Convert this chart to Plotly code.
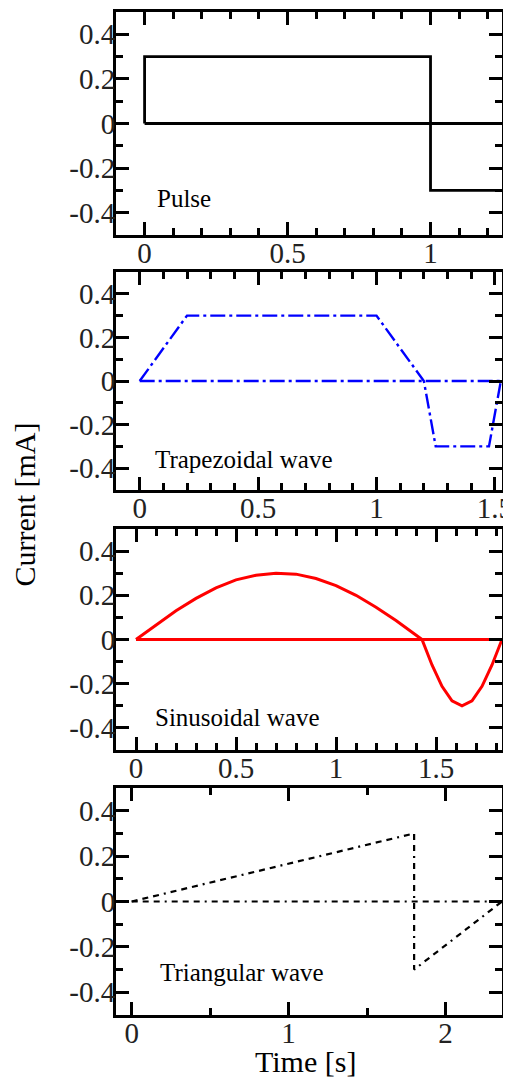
import plotly.graph_objects as go
from plotly.subplots import make_subplots

# ---- data ----
pulse_t = [0, 0, 1, 1, 1.25]
pulse_i = [0, 0.3, 0.3, -0.3, -0.3]

trap_t = [0, 0.2, 1.0, 1.2, 1.25, 1.475, 1.525]
trap_i = [0, 0.3, 0.3, 0.0, -0.3, -0.3, 0.0]

sine_t = [0, 0.1, 0.2, 0.3, 0.4, 0.5, 0.6, 0.7, 0.8, 0.9, 1.0, 1.1, 1.2, 1.3, 1.43,
          1.48, 1.53, 1.58, 1.63, 1.68, 1.73, 1.78, 1.83]
sine_i = [0, 0.066, 0.13, 0.186, 0.234, 0.27, 0.291, 0.3, 0.296, 0.276, 0.244, 0.2, 0.146, 0.086, 0.0,
          -0.115, -0.212, -0.277, -0.3, -0.277, -0.212, -0.115, 0.0]

tri_t = [0, 1.8, 1.8, 2.36]
tri_i = [0, 0.3, -0.3, 0.0]

x_ranges = [[-0.1, 1.25], [-0.1, 1.53], [-0.1, 1.83], [-0.1, 2.36]]
zero_t = [[0, 1.25], [0, 1.53], [0, 1.83], [0, 2.36]]
zero_i = [0, 0]

x_dticks = [0.5, 0.5, 0.5, 1.0]
x_minor = [0.1, 0.1, 0.1, 0.5]

y_tickvals = [-0.4, -0.2, 0, 0.2, 0.4]
y_ticktext = ["-0.4", "-0.2", "0", "0.2", "0.4"]

labels = ["Pulse", "Trapezoidal wave", "Sinusoidal wave", "Triangular wave"]
label_pos = [(0.10, 0.165), (0.096, 0.138), (0.096, 0.145), (0.109, 0.189)]

colors = ["black", "#0000ff", "#ff0000", "black"]
dashes = ["solid", "15px,4px,3px,4px", "solid", "6px,5px,6px,5px,6px,5px,2px,5px"]
widths = [2.8, 2.4, 3.0, 2.2]

# ---- figure ----
FONT = "Liberation Serif, Times New Roman, serif"
fig = make_subplots(rows=4, cols=1)

series = [(pulse_t, pulse_i), (trap_t, trap_i), (sine_t, sine_i), (tri_t, tri_i)]
for k, (t, i) in enumerate(series):
    r = k + 1
    fig.add_trace(go.Scatter(x=zero_t[k], y=zero_i, mode="lines",
                             line=dict(color=colors[k], width=widths[k], dash=dashes[k]),
                             hoverinfo="skip"), row=r, col=1)
    fig.add_trace(go.Scatter(x=t, y=i, mode="lines",
                             line=dict(color=colors[k], width=widths[k], dash=dashes[k]),
                             hoverinfo="skip"), row=r, col=1)

domains = [[0.7777, 1.0], [0.5234, 0.7408], [0.2642, 0.4845], [0.0, 0.2263]]
tickfont = dict(family=FONT, size=29, color="#222")
for k in range(4):
    r = k + 1
    fig.update_xaxes(row=r, col=1, range=x_ranges[k], tick0=0, dtick=x_dticks[k],
                     ticks="inside", ticklen=13, tickwidth=3, tickcolor="black",
                     minor=dict(dtick=x_minor[k], tick0=0, ticks="inside", ticklen=7,
                                tickwidth=2.5, tickcolor="black"),
                     showline=True, linewidth=3, linecolor="black", mirror="ticks",
                     showgrid=False, zeroline=False, tickfont=tickfont,
                     ticklabelstandoff=-10, ticklabeloverflow="allow", automargin=False)
    fig.update_yaxes(row=r, col=1, range=[-0.5, 0.5], domain=domains[k],
                     tickvals=y_tickvals, ticktext=y_ticktext,
                     ticks="inside", ticklen=13, tickwidth=3, tickcolor="black",
                     minor=dict(dtick=0.1, tick0=0, ticks="inside", ticklen=7,
                                tickwidth=2.5, tickcolor="black"),
                     showline=True, linewidth=3, linecolor="black", mirror="ticks",
                     showgrid=False, zeroline=False, tickfont=tickfont,
                     ticklabelstandoff=-8, automargin=False)
    xs = "x" if k == 0 else f"x{r}"
    ys = "y" if k == 0 else f"y{r}"
    fig.add_annotation(text=labels[k], xref=f"{xs} domain", yref=f"{ys} domain",
                       x=label_pos[k][0], y=label_pos[k][1], xanchor="left", yanchor="middle",
                       showarrow=False, font=dict(family=FONT, size=25, color="black"))

fig.add_annotation(text="Current [mA]", xref="paper", yref="paper", x=-0.238, y=0.509,
                   textangle=-90, showarrow=False, xanchor="center", yanchor="middle",
                   font=dict(family=FONT, size=30, color="black"))
fig.add_annotation(text="Time [s]", xref="paper", yref="paper", x=0.49, y=-0.046,
                   showarrow=False, xanchor="center", yanchor="middle",
                   font=dict(family=FONT, size=30, color="black"))

# page body has an 8px margin; size the figure so the plot lands where the reference has it
fig.update_layout(width=503, height=1071, margin=dict(l=108, r=9, t=4, b=64, autoexpand=False),
                  paper_bgcolor="white", plot_bgcolor="white", showlegend=False)

fig.write_html("out.html")
